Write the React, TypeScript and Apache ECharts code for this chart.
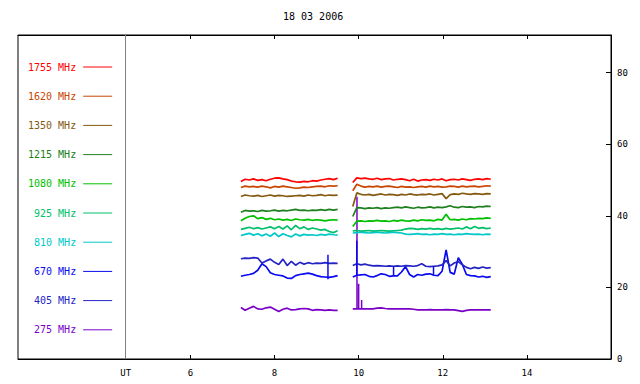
import React, { useEffect, useRef } from 'react';
import * as echarts from 'echarts';

const titleText = '18 03 2006';
const mono = '"DejaVu Sans Mono", monospace';

const freqNames = ['1755 MHz', '1620 MHz', '1350 MHz', '1215 MHz', '1080 MHz', '925 MHz', '810 MHz', '670 MHz', '405 MHz', '275 MHz'];
const freqColors = ['#ff0000', '#c84600', '#855a10', '#208020', '#00c000', '#00c06a', '#00c8c8', '#0a0af0', '#2424c4', '#7a00c8'];

// time sampling of the two observation blocks (UT hours)
const seg1Start = 7.2;
const seg1Step = 0.1;
const seg2Start = 9.86;
const seg2Step = 0.0965;
const gapTime = 9.68;

// values, block 1 and block 2
const f1755a = [49.6, 50.2, 50.0, 50.3, 49.9, 50.1, 49.8, 50.2, 50.5, 50.6, 50.3, 50.1, 49.7, 49.5, 49.4, 49.6, 49.5, 49.8, 49.7, 50.0, 50.2, 50.4, 50.1, 50.5];
const f1755b = [49.3, 50.6, 50.4, 50.5, 50.3, 50.2, 50.5, 50.1, 50.3, 50.4, 50.0, 50.2, 50.3, 50.1, 49.8, 50.2, 49.7, 50.0, 50.1, 49.9, 50.2, 50.0, 50.3, 49.8, 50.1, 50.2, 50.0, 50.3, 50.1, 49.9, 50.2, 50.3, 50.1, 50.4, 50.2];
const f1620a = [47.9, 48.3, 48.1, 48.2, 48.0, 48.3, 48.1, 47.8, 48.2, 48.0, 48.3, 48.1, 47.9, 47.7, 47.8, 48.0, 47.9, 48.1, 48.2, 48.3, 48.1, 48.4, 48.3, 48.4];
const f1620b = [47.0, 48.8, 48.3, 48.0, 48.2, 48.1, 48.3, 48.0, 48.2, 48.3, 48.1, 47.9, 48.2, 48.0, 48.1, 47.9, 48.1, 48.2, 48.0, 48.3, 48.1, 48.2, 48.0, 48.1, 48.3, 48.2, 48.0, 48.3, 48.1, 48.2, 48.3, 48.1, 48.2, 48.4, 48.3];
const f1350a = [45.4, 45.8, 45.6, 45.5, 45.7, 45.4, 45.6, 45.8, 45.5, 45.7, 45.6, 45.4, 45.5, 45.6, 45.7, 45.5, 45.8, 45.6, 45.7, 45.9, 45.6, 45.8, 45.7, 45.8];
const f1350b = [42.6, 46.4, 46.0, 45.8, 46.0, 45.7, 45.9, 46.1, 45.8, 46.0, 45.9, 45.7, 46.0, 45.8, 46.1, 45.9, 45.8, 46.0, 45.9, 46.1, 45.8, 46.0, 46.2, 44.8, 45.9, 46.1, 46.0, 46.3, 46.1, 46.0, 46.2, 46.1, 46.0, 46.2, 46.1];
const f1215a = [41.0, 41.5, 41.3, 41.4, 41.2, 41.5, 41.3, 41.4, 41.6, 41.3, 41.5, 41.4, 41.6, 41.8, 41.5, 41.6, 41.4, 41.6, 41.5, 41.7, 41.5, 41.8, 41.6, 41.8];
const f1215b = [39.8, 42.3, 42.2, 42.0, 42.2, 42.1, 42.3, 42.0, 42.2, 42.1, 42.3, 42.4, 42.2, 42.5, 42.3, 42.1, 42.4, 42.2, 42.3, 42.5, 42.2, 42.4, 42.3, 42.5, 42.8, 42.4, 42.3, 42.6, 42.4, 42.5, 42.3, 42.6, 42.5, 42.7, 42.6];
const f1080a = [38.6, 39.3, 39.8, 40.0, 39.2, 39.5, 39.0, 39.3, 38.9, 39.1, 38.8, 39.0, 38.7, 39.1, 38.9, 38.8, 39.0, 38.7, 38.9, 38.8, 38.6, 38.8, 38.9, 38.8];
const f1080b = [37.0, 38.5, 38.6, 38.4, 38.6, 38.5, 38.7, 38.5, 38.6, 38.4, 38.7, 38.5, 38.8, 38.6, 38.5, 38.8, 38.6, 38.9, 38.7, 38.8, 38.6, 39.0, 38.8, 40.4, 38.9, 39.0, 38.8, 39.1, 38.9, 39.2, 39.1, 39.3, 39.2, 39.4, 39.3];
const f925a = [36.2, 36.5, 36.8, 36.4, 36.7, 36.3, 36.6, 36.9, 36.4, 37.0, 36.3, 37.2, 36.1, 37.3, 36.4, 36.9, 36.2, 36.6, 36.3, 36.0, 36.2, 35.6, 35.3, 35.8];
const f925b = [35.8, 35.9, 35.7, 35.8, 35.9, 35.7, 35.8, 35.9, 35.8, 35.7, 35.8, 35.9, 36.0, 36.3, 36.5, 36.4, 36.2, 36.4, 36.3, 36.5, 36.3, 36.4, 36.2, 36.5, 36.3, 36.4, 36.6, 36.3, 36.9, 36.4, 37.0, 36.5, 36.7, 36.4, 36.6];
const f810a = [34.5, 34.8, 35.1, 34.6, 35.0, 34.4, 34.9, 34.3, 35.2, 34.2, 35.0, 34.5, 34.1, 34.9, 34.4, 34.8, 34.6, 34.7, 34.5, 34.8, 34.6, 34.9, 34.7, 34.6];
const f810b = [35.2, 35.3, 35.4, 35.3, 35.2, 35.3, 35.4, 35.3, 35.2, 35.3, 35.4, 35.3, 35.2, 34.9, 34.8, 34.9, 35.0, 34.8, 34.9, 34.7, 34.9, 34.8, 35.0, 34.8, 34.9, 34.7, 34.9, 34.8, 35.0, 34.9, 34.8, 34.9, 34.7, 34.9, 34.8];
const f670a = [23.1, 23.4, 23.6, 23.9, 24.8, 26.6, 25.8, 24.1, 23.6, 23.4, 23.2, 22.6, 22.5, 23.3, 23.6, 23.8, 24.0, 23.7, 23.3, 23.0, 22.9, 22.8, 23.0, 23.3];
const f670b = [22.9, 23.4, 23.5, 23.6, 23.1, 22.9, 23.3, 23.8, 23.6, 23.1, 23.2, 23.2, 24.3, 25.8, 23.6, 22.9, 23.6, 23.4, 23.7, 23.8, 23.4, 23.3, 24.5, 30.5, 24.2, 23.7, 28.3, 26.4, 23.6, 23.3, 23.2, 22.9, 23.1, 22.8, 23.0];
const f405a = [28.0, 28.2, 28.1, 28.3, 28.2, 26.8, 27.4, 27.9, 27.0, 26.4, 27.9, 26.1, 27.3, 26.2, 27.0, 26.5, 26.9, 26.6, 26.8, 26.7, 26.9, 26.7, 26.8, 26.7];
const f405b = [26.1, 26.6, 26.3, 26.5, 26.2, 26.0, 26.1, 26.0, 25.9, 26.0, 25.9, 26.0, 25.9, 26.1, 26.0, 25.9, 26.1, 26.6, 25.9, 25.8, 25.9, 26.0, 26.3, 27.5, 26.0, 26.8, 27.2, 26.3, 25.6, 25.2, 25.6, 25.3, 25.7, 25.4, 25.5];
const f275a = [14.4, 13.6, 14.2, 14.7, 14.0, 13.9, 14.3, 14.5, 13.9, 13.3, 13.9, 14.2, 13.7, 13.8, 14.0, 14.1, 14.0, 13.6, 13.8, 13.7, 13.6, 13.7, 13.6, 13.6];
const f275b = [14.0, 14.0, 14.0, 14.0, 14.0, 14.0, 14.2, 14.3, 14.1, 14.0, 14.0, 14.0, 14.0, 14.0, 14.0, 13.9, 13.7, 13.7, 13.7, 13.8, 13.7, 13.7, 13.7, 13.8, 13.7, 13.7, 13.5, 13.3, 13.6, 13.7, 13.7, 13.7, 13.7, 13.7, 13.7];

// short vertical spikes: [time, low, high]
const spikes670 = [[9.27, 22.3, 29.1], [9.955, 23.4, 33.0], [10.83, 23.2, 26.0], [11.78, 23.4, 26.0]];
const spikes275 = [[9.96, 14.0, 45.3], [10.0, 14.0, 21.0], [10.07, 14.0, 16.5]];

const blocks = [
  [f1755a, f1755b], [f1620a, f1620b], [f1350a, f1350b], [f1215a, f1215b], [f1080a, f1080b],
  [f925a, f925b], [f810a, f810b], [f670a, f670b], [f405a, f405b], [f275a, f275b],
];

const xTickValues = [6, 8, 10, 12, 14];
const topTickValues = [6, 8, 10, 12, 14, 16];
const utPos = 4.46;
const xMin = 1.9;
const xMax = 16;
const yMin = 0;
const yMax = 90.5;
const yInterval = 20;

function buildSeries(a: number[], b: number[]) {
  const d: any[] = a.map((v, i) => [seg1Start + i * seg1Step, v]);
  d.push([gapTime, null]);
  b.forEach((v, i) => d.push([seg2Start + i * seg2Step, v]));
  return d;
}

function buildSpikes(sp: number[][]) {
  const d: any[] = [];
  sp.forEach(([t, lo, hi]) => {
    d.push([t, lo]);
    d.push([t, hi]);
    d.push([t, null]);
  });
  return d;
}

export default function App() {
  const ref = useRef<HTMLDivElement>(null);
  useEffect(() => {
    document.body.style.margin = '0';
    const chart = echarts.init(ref.current!, null, { renderer: 'svg' });
    const lineSeries: any[] = blocks.map((bk, i) => ({
      name: freqNames[i],
      type: 'line',
      data: buildSeries(bk[0], bk[1]),
      symbol: 'none',
      connectNulls: false,
      color: freqColors[i],
      lineStyle: { color: freqColors[i], width: 1.7 },
      z: 3,
    }));
    const spike275: any = {
      name: 'spikes275', type: 'line', data: buildSpikes(spikes275), symbol: 'none',
      lineStyle: { color: freqColors[9], width: 1.5 }, z: 2,
    };
    const spike670: any = {
      name: 'spikes670', type: 'line', data: buildSpikes(spikes670), symbol: 'none',
      lineStyle: { color: freqColors[7], width: 1.5 }, z: 3,
    };
    const utLine: any = {
      name: 'ut', type: 'line', data: [], symbol: 'none',
      markLine: {
        silent: true, symbol: ['none', 'none'], label: { show: false },
        lineStyle: { color: '#808080', width: 1, type: 'solid' },
        data: [{ xAxis: utPos }],
      },
    };
    chart.setOption({
      animation: false,
      backgroundColor: '#ffffff',
      title: {
        text: titleText, left: 283, top: 11, padding: 0,
        textStyle: { fontFamily: mono, fontSize: 10, fontWeight: 'normal', color: '#000' },
      },
      legend: {
        orient: 'vertical', left: 28, top: 60, align: 'right', padding: 0,
        itemWidth: 29, itemHeight: 1, itemGap: 15.2, icon: 'rect', selectedMode: false,
        itemStyle: { borderWidth: 0 },
        textStyle: { fontFamily: mono, fontSize: 10, lineHeight: 14, padding: [0, 2, 0, 0] },
        data: freqNames.map((n, i) => ({ name: n, textStyle: { color: freqColors[i] } })),
      },
      grid: { left: 18, right: 29, top: 35, bottom: 25, show: true, borderColor: '#000', borderWidth: 1 },
      xAxis: [
        {
          type: 'value', min: xMin, max: xMax, position: 'bottom',
          axisLine: { show: true, lineStyle: { color: '#000' } },
          axisTick: { show: true, inside: true, length: 4, customValues: xTickValues, lineStyle: { color: '#000' } },
          axisLabel: {
            customValues: [utPos, ...xTickValues],
            formatter: (v: number) => (Math.abs(v - utPos) < 1e-6 ? 'UT' : String(v)),
            fontFamily: mono, fontSize: 9, color: '#000', margin: 9,
          },
          splitLine: { show: false },
        },
        {
          type: 'value', min: xMin, max: xMax, position: 'top',
          axisLine: { show: true, lineStyle: { color: '#000' } },
          axisTick: { show: true, inside: true, length: 4, customValues: topTickValues, lineStyle: { color: '#000' } },
          axisLabel: { show: false },
          splitLine: { show: false },
        },
      ],
      yAxis: {
        type: 'value', min: yMin, max: yMax, interval: yInterval, position: 'right',
        axisLine: { show: true, lineStyle: { color: '#000' } },
        axisTick: { show: true, inside: true, length: 5, lineStyle: { color: '#000' } },
        axisLabel: { fontFamily: mono, fontSize: 9, color: '#000', margin: 6, showMaxLabel: false },
        splitLine: { show: false },
      },
      series: [utLine, spike275, ...lineSeries, spike670],
    });
    return () => chart.dispose();
  }, []);
  return <div ref={ref} style={{ width: 640, height: 384 }} />;
}
